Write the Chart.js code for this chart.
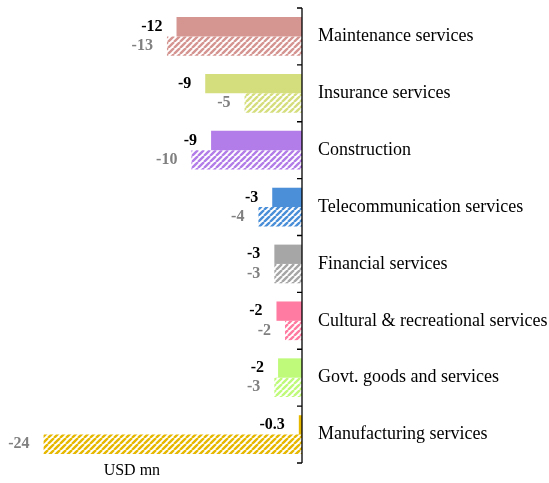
<!DOCTYPE html>
<html>
<head>
<meta charset="utf-8">
<script src="https://cdn.jsdelivr.net/npm/chart.js@4.4.1/dist/chart.umd.min.js"></script>
<style>
  html, body { margin: 0; padding: 0; background: #fff; }
  #wrap { width: 549px; height: 483px; }
</style>
</head>
<body>
<div id="wrap"><canvas id="chart"></canvas></div>
<script>
const categories = [
  "Maintenance services", "Insurance services", "Construction",
  "Telecommunication services", "Financial services",
  "Cultural & recreational services", "Govt. goods and services",
  "Manufacturing services"
];
// solid bars (first series) and hatched bars (second series)
const solidValues = [-11.8, -9.1, -8.55, -2.8, -2.6, -2.4, -2.25, -0.3];
const hatchValues = [-12.7, -5.4, -10.4, -4.1, -2.6, -1.6, -2.6, -24.3];
const colors = ["#d59591", "#d5de7d", "#b27de8", "#4a8fd8", "#a6a6a6", "#ff7ba1", "#bffa7a", "#e6b800"];
const unitLabel = "USD mn";

function hatch(color) {
  const s = 6;
  const c = document.createElement("canvas");
  c.width = s; c.height = s;
  const g = c.getContext("2d");
  g.fillStyle = "#fff";
  g.fillRect(0, 0, s, s);
  g.strokeStyle = color;
  g.lineWidth = 2.4;
  g.beginPath();
  [-s, 0, s].forEach(k => { g.moveTo(k, s); g.lineTo(k + s, 0); });
  g.stroke();
  return document.getElementById("chart").getContext("2d").createPattern(c, "repeat");
}

function fmt(v) {
  if (Math.abs(v) < 1) return v.toFixed(1);
  return String(-Math.round(Math.abs(v)));
}

const extras = {
  id: "extras",
  afterDatasetsDraw(chart) {
    const ctx = chart.ctx;
    const y = chart.scales.y;
    const area = chart.chartArea;
    ctx.save();
    // value labels
    ctx.font = "bold 16px 'Liberation Serif'";
    ctx.textAlign = "right";
    ctx.textBaseline = "middle";
    chart.data.datasets.forEach((ds, di) => {
      chart.getDatasetMeta(di).data.forEach((bar, i) => {
        ctx.fillStyle = di === 0 ? "#000" : "#808080";
        ctx.fillText(fmt(ds.data[i]), bar.x - 14, bar.y);
      });
    });
    // axis line and tick marks
    ctx.strokeStyle = "#000";
    ctx.lineWidth = 1.3;
    ctx.beginPath();
    ctx.moveTo(area.right, area.top);
    ctx.lineTo(area.right, area.bottom);
    const step = (y.getPixelForTick(1) - y.getPixelForTick(0));
    for (let i = 0; i <= categories.length; i++) {
      const py = y.getPixelForTick(0) - step / 2 + i * step;
      ctx.moveTo(area.right, py);
      ctx.lineTo(area.right - 5, py);
    }
    ctx.stroke();
    // unit label
    ctx.font = "16px 'Liberation Serif'";
    ctx.fillStyle = "#000";
    ctx.textAlign = "center";
    ctx.textBaseline = "top";
    ctx.fillText(unitLabel, chart.scales.x.getPixelForValue(-16), area.bottom);
    ctx.restore();
  }
};

new Chart(document.getElementById("chart"), {
  type: "bar",
  data: {
    labels: categories,
    datasets: [
      { data: solidValues, backgroundColor: colors, barPercentage: 1, categoryPercentage: 0.68 },
      { data: hatchValues, backgroundColor: colors.map(hatch), barPercentage: 1, categoryPercentage: 0.68 }
    ]
  },
  options: {
    indexAxis: "y",
    responsive: true,
    maintainAspectRatio: false,
    animation: false,
    layout: { padding: { top: 8, bottom: 20, left: 0, right: 0 } },
    plugins: { legend: { display: false }, tooltip: { enabled: false } },
    scales: {
      x: { display: false, min: -28.4, max: 0 },
      y: {
        position: "right",
        grid: { display: false, drawTicks: false },
        border: { display: false },
        ticks: { color: "#000", padding: 16, font: { family: "Liberation Serif", size: 18 } },
        afterFit(scale) {
          scale.width = 247;
          scale.paddingTop = 0;
          scale.paddingBottom = 0;
        }
      }
    }
  },
  plugins: [extras]
});
</script>
</body>
</html>
